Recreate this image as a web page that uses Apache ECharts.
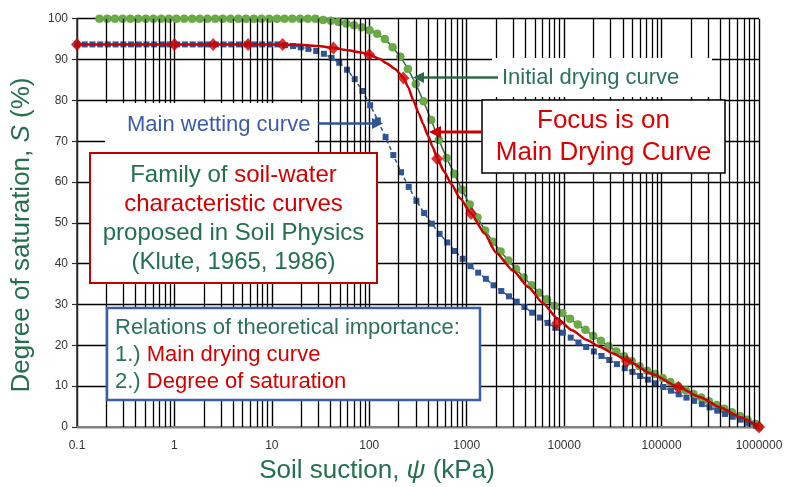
<!DOCTYPE html>
<html>
<head>
<meta charset="utf-8">
<script src="https://cdn.jsdelivr.net/npm/echarts@6/dist/echarts.min.js"></script>
<style>
  html, body { margin: 0; padding: 0; background: #ffffff; }
  #chart { width: 789px; height: 487px; }
</style>
</head>
<body>
<div id="chart"></div>
<script>
// Soil-water characteristic curves: degree of saturation S (%) versus soil suction (kPa)

// Decade tick values of the suction axis
const suctionTicks = [0.1, 1, 10, 100, 1000, 10000, 100000, 1000000];
const minorMultipliers = [2, 3, 4, 5, 6, 7, 8, 9];

// Initial drying curve (green circles)
const initialDryingX = [
  0.17, 0.204, 0.245, 0.294, 0.353, 0.423, 0.508, 0.609, 0.731, 0.877,
  1.05, 1.26, 1.52, 1.82, 2.18, 2.62, 3.14, 3.77, 4.53, 5.43,
  6.52, 7.82, 9.39, 11.3, 13.5, 16.2, 19.5, 23.4, 28.0, 33.6,
  40.4, 48.4, 58.1, 69.7, 83.7, 100.4, 120.5, 144.6, 173.5, 208.2,
  249.8, 299.8, 359.8, 431.7, 518.1, 621.7, 746.0, 895.2, 1074, 1289,
  1547, 1856, 2228, 2673, 3208, 3850, 4620, 5543, 6652, 7983,
  9579, 11495, 13794, 16553, 19864, 23836, 28604, 34324, 41189, 49427,
  59312, 71175, 85410, 102492, 122990, 147588, 177106, 212527, 255032, 306039,
  367246, 440696, 528835, 634602, 761522, 913827, 1000000
];
const initialDryingS = [
  100, 100, 100, 100, 100, 100, 100, 100, 100, 100,
  100, 100, 100, 100, 100, 100, 100, 100, 100, 100,
  100, 100, 100, 100, 100, 100, 100, 100, 100, 99.7,
  99.5, 99.2, 98.8, 98.4, 97.9, 97.2, 96.3, 95.0, 93.0, 90.7,
  87.7, 84.0, 79.8, 75.2, 70.3, 65.9, 62.0, 58.1, 54.5, 51.3,
  48.1, 45.4, 43.0, 40.8, 38.7, 36.6, 34.7, 32.9, 31.3, 29.7,
  27.9, 26.5, 25.1, 23.8, 22.3, 21.1, 19.8, 18.5, 17.3, 16.1,
  14.9, 13.8, 13.0, 12.0, 11.0, 10.0, 9.0, 8.1, 7.2, 6.3,
  5.4, 4.5, 3.6, 2.7, 1.8, 0.8, 0
];

// Main wetting curve (blue squares)
const mainWettingX = [
  0.1, 0.12, 0.144, 0.173, 0.207, 0.249, 0.299, 0.358, 0.43, 0.516,
  0.619, 0.743, 0.892, 1.07, 1.28, 1.54, 1.85, 2.22, 2.66, 3.19,
  3.83, 4.60, 5.52, 6.62, 7.95, 9.54, 11.4, 13.7, 16.5, 19.8,
  23.7, 28.5, 34.2, 41.0, 49.2, 59.1, 70.9, 85.1, 102.1, 122.5,
  147.0, 176.4, 211.6, 254.0, 304.8, 365.7, 438.9, 526.6, 631.9, 758.3,
  910, 1092, 1310, 1572, 1887, 2264, 2717, 3260, 3912, 4695,
  5634, 6761, 8113, 9735, 11682, 14019, 16822, 20187, 24224, 29069,
  34883, 41860, 50232, 60278, 72334, 86800, 104160, 124992, 149991, 179989,
  215987, 259184, 311021, 373225, 447870, 537444, 644933, 773920, 928704
];
const mainWettingS = [
  93.7, 93.7, 93.7, 93.7, 93.7, 93.7, 93.7, 93.7, 93.7, 93.7,
  93.7, 93.7, 93.7, 93.7, 93.7, 93.7, 93.7, 93.7, 93.7, 93.7,
  93.7, 93.7, 93.7, 93.7, 93.7, 93.7, 93.7, 93.5, 93.3, 93.0,
  92.6, 92.1, 91.4, 90.4, 89.2, 87.5, 85.2, 82.3, 78.8, 75.1,
  71.0, 66.6, 62.4, 58.8, 55.4, 52.4, 49.8, 47.3, 45.2, 43.1,
  41.2, 39.4, 37.8, 36.3, 34.7, 33.3, 32.0, 30.7, 29.4, 28.0,
  26.8, 25.5, 24.3, 23.1, 21.9, 20.7, 19.6, 18.5, 17.4, 16.4,
  15.4, 14.4, 13.5, 12.5, 11.6, 10.7, 9.8, 8.9, 8.0, 7.2,
  6.4, 5.6, 4.8, 4.0, 3.2, 2.5, 1.8, 1.0, 0.3
];

// Main drying curve: fitted line
const mainDryingX = [
  0.1, 10, 20, 30, 42.8, 60, 80, 100, 129, 150,
  184, 224, 250, 282, 322, 357, 400, 447, 497, 586,
  700, 855, 1109, 1510, 2000, 2995, 4270, 6085, 8470, 12080,
  17100, 23440, 31850, 44000, 80000, 149000, 249000, 400000, 641000, 1000000
];
const mainDryingS = [
  93.7, 93.7, 93.6, 93.3, 92.8, 92.3, 91.8, 91.2, 90.1, 89.1,
  87.7, 85.6, 83.3, 80.1, 76.8, 74.2, 71.4, 68.6, 65.9, 62.6,
  59.4, 56.0, 52.3, 47.6, 42.7, 38.3, 34.3, 30.3, 26.6, 23.7,
  21.3, 19.6, 18.0, 16.3, 13.0, 9.8, 7.3, 4.8, 2.4, 0
];

// Main drying curve: measured points (red diamonds)
const dryingPointsX = [0.1, 1, 2.5, 5.7, 12.9, 42.8, 100, 224, 497, 1109, 8470, 44000, 149000, 1000000];
const dryingPointsS = [93.7, 93.7, 93.7, 93.7, 93.7, 92.8, 91.2, 85.5, 65.7, 52.3, 25.4, 16.1, 9.7, 0];

const pairs = (xs, ys) => xs.map((x, i) => [x, ys[i]]);

const minorGridValues = [];
suctionTicks.slice(0, -1).forEach(d => {
  minorMultipliers.forEach(m => minorGridValues.push(Number((d * m).toPrecision(6))));
});

const FONT = '"Liberation Sans", Arial, sans-serif';
const GREEN_TEXT = '#22704c';
const RED = '#cc0000';
const BLUE = '#2f5597';
const GRID = '#000000';

const chart = echarts.init(document.getElementById('chart'), null, { renderer: 'canvas' });

function arrow(x1, y1, x2, y2, color, width, head) {
  // straight arrow from (x1,y1) to tip (x2,y2)
  const dx = x2 - x1, dy = y2 - y1;
  const len = Math.sqrt(dx * dx + dy * dy);
  const ux = dx / len, uy = dy / len;
  const bx = x2 - ux * head, by = y2 - uy * head;
  const px = -uy * head * 0.5, py = ux * head * 0.5;
  return [
    { type: 'line', z: 120, shape: { x1: x1, y1: y1, x2: bx + ux, y2: by + uy },
      style: { stroke: color, lineWidth: width } },
    { type: 'polygon', z: 121, shape: { points: [[x2, y2], [bx + px, by + py], [bx - px, by - py]] },
      style: { fill: color } }
  ];
}

const option = {
  animation: false,
  backgroundColor: '#ffffff',
  grid: { left: 77, right: 30, top: 18.7, bottom: 60 },
  xAxis: {
    type: 'log',
    logBase: 10,
    min: 0.1,
    max: 1000000,
    axisLine: { show: true, onZero: false, lineStyle: { color: '#808080', width: 2 } },
    axisTick: { show: false },
    axisLabel: {
      fontFamily: FONT, fontSize: 12, color: '#333333', margin: 13,
      formatter: v => String(Number(Number(v).toPrecision(6)))
    },
    splitLine: { show: true, lineStyle: { color: GRID, width: 1.4 } }
  },
  yAxis: {
    type: 'value',
    min: 0,
    max: 100,
    interval: 10,
    axisLine: { show: true, lineStyle: { color: '#303030', width: 1.5 } },
    axisTick: { show: true, length: 5, lineStyle: { color: '#303030', width: 1.2 } },
    axisLabel: { fontFamily: FONT, fontSize: 12, color: '#333333', margin: 9 },
    splitLine: { show: true, lineStyle: { color: GRID, width: 1.4 } }
  },
  series: [
    {
      // intermediate log grid lines (2..9 within each decade)
      type: 'line',
      data: [],
      z: 1,
      silent: true,
      markLine: {
        silent: true,
        symbol: ['none', 'none'],
        label: { show: false },
        lineStyle: { color: GRID, width: 1.3, type: 'solid' },
        emphasis: { disabled: true },
        data: minorGridValues.map(v => ({ xAxis: v }))
      }
    },
    {
      name: 'Initial drying curve',
      type: 'line',
      z: 3,
      data: pairs(initialDryingX, initialDryingS),
      symbol: 'circle',
      symbolSize: 8,
      showAllSymbol: true,
      lineStyle: { color: '#2e6e3e', width: 1.5 },
      itemStyle: { color: '#6aab45', borderColor: '#5e9e3c', borderWidth: 0.5 }
    },
    {
      name: 'Main wetting curve',
      type: 'line',
      z: 4,
      data: pairs(mainWettingX, mainWettingS),
      symbol: 'rect',
      symbolSize: 6,
      showAllSymbol: true,
      lineStyle: { color: BLUE, width: 1.5, type: [4, 3] },
      itemStyle: { color: BLUE }
    },
    {
      name: 'Main drying curve',
      type: 'line',
      z: 5,
      data: pairs(mainDryingX, mainDryingS),
      smooth: 0.2,
      smoothMonotone: 'x',
      showSymbol: false,
      lineStyle: { color: RED, width: 2.5 }
    },
    {
      name: 'Main drying points',
      type: 'scatter',
      z: 6,
      data: pairs(dryingPointsX, dryingPointsS),
      symbol: 'diamond',
      symbolSize: [12, 13],
      itemStyle: { color: RED }
    }
  ],
  graphic: [
    // axis titles
    { type: 'text', z: 100, x: 377, y: 471,
      style: {
        text: 'Soil suction, {i|ψ} (kPa)', align: 'center', verticalAlign: 'middle',
        fontFamily: FONT, fontSize: 26, fill: GREEN_TEXT,
        rich: { i: { fontFamily: FONT, fontSize: 26, fontStyle: 'italic', fill: GREEN_TEXT } }
      } },
    { type: 'text', z: 100, x: 22, y: 235, rotation: Math.PI / 2,
      style: {
        text: 'Degree of saturation, {i|S} (%)', align: 'center', verticalAlign: 'middle',
        fontFamily: FONT, fontSize: 26, fill: GREEN_TEXT,
        rich: { i: { fontFamily: FONT, fontSize: 26, fontStyle: 'italic', fill: GREEN_TEXT } }
      } },

    // "Initial drying curve" label
    { type: 'rect', z: 100, shape: { x: 492, y: 58, width: 220, height: 39 }, style: { fill: '#ffffff' } },
    { type: 'text', z: 101, x: 502, y: 77.5,
      style: { text: 'Initial drying curve', align: 'left', verticalAlign: 'middle',
        fontFamily: FONT, fontSize: 22, fill: '#2a7356' } },
    ...arrow(498, 77.5, 413, 77.5, '#2b6a48', 2.5, 11),

    // "Main wetting curve" label
    { type: 'rect', z: 100, shape: { x: 105, y: 103, width: 210, height: 49 }, style: { fill: '#ffffff' } },
    { type: 'text', z: 101, x: 127, y: 125,
      style: { text: 'Main wetting curve', align: 'left', verticalAlign: 'middle',
        fontFamily: FONT, fontSize: 22, fill: '#3a5ca8' } },
    ...arrow(318, 123.5, 383, 123.5, BLUE, 2.5, 11),

    // Family of soil-water characteristic curves
    { type: 'rect', z: 100, shape: { x: 90, y: 153, width: 287, height: 130 },
      style: { fill: '#ffffff', stroke: '#c00000', lineWidth: 2 } },
    { type: 'text', z: 101, x: 233.5, y: 219,
      style: {
        text: '{g|Family of }{r|soil-water}\n{r|characteristic curves}\n{g|proposed in Soil Physics}\n{g|(Klute, 1965, 1986)}',
        align: 'center', verticalAlign: 'middle',
        rich: {
          g: { fontFamily: FONT, fontSize: 24, lineHeight: 29, fill: '#22704c' },
          r: { fontFamily: FONT, fontSize: 24, lineHeight: 29, fill: '#d40000' }
        }
      } },

    // Focus is on Main Drying Curve
    { type: 'rect', z: 100, shape: { x: 482, y: 100, width: 243, height: 73 },
      style: { fill: '#ffffff', stroke: '#000000', lineWidth: 1.5 } },
    { type: 'text', z: 101, x: 603.5, y: 137,
      style: { text: 'Focus is on\nMain Drying Curve', align: 'center', verticalAlign: 'middle',
        fontFamily: FONT, fontSize: 26, lineHeight: 32, fill: '#dd0000' } },
    ...arrow(482, 132, 429, 132, RED, 3, 12),

    // Relations of theoretical importance
    { type: 'rect', z: 100, shape: { x: 107, y: 308, width: 373, height: 92 },
      style: { fill: '#ffffff', stroke: '#3c5ea6', lineWidth: 2.5 } },
    { type: 'text', z: 101, x: 115, y: 355,
      style: {
        text: '{g|Relations of theoretical importance:}\n{g|1.) }{r|Main drying curve}\n{g|2.) }{r|Degree of saturation}',
        align: 'left', verticalAlign: 'middle',
        rich: {
          g: { fontFamily: FONT, fontSize: 22, lineHeight: 26.7, fill: '#2a7356' },
          r: { fontFamily: FONT, fontSize: 22, lineHeight: 26.7, fill: '#d40000' }
        }
      } }
  ]
};

chart.setOption(option);
</script>
</body>
</html>
